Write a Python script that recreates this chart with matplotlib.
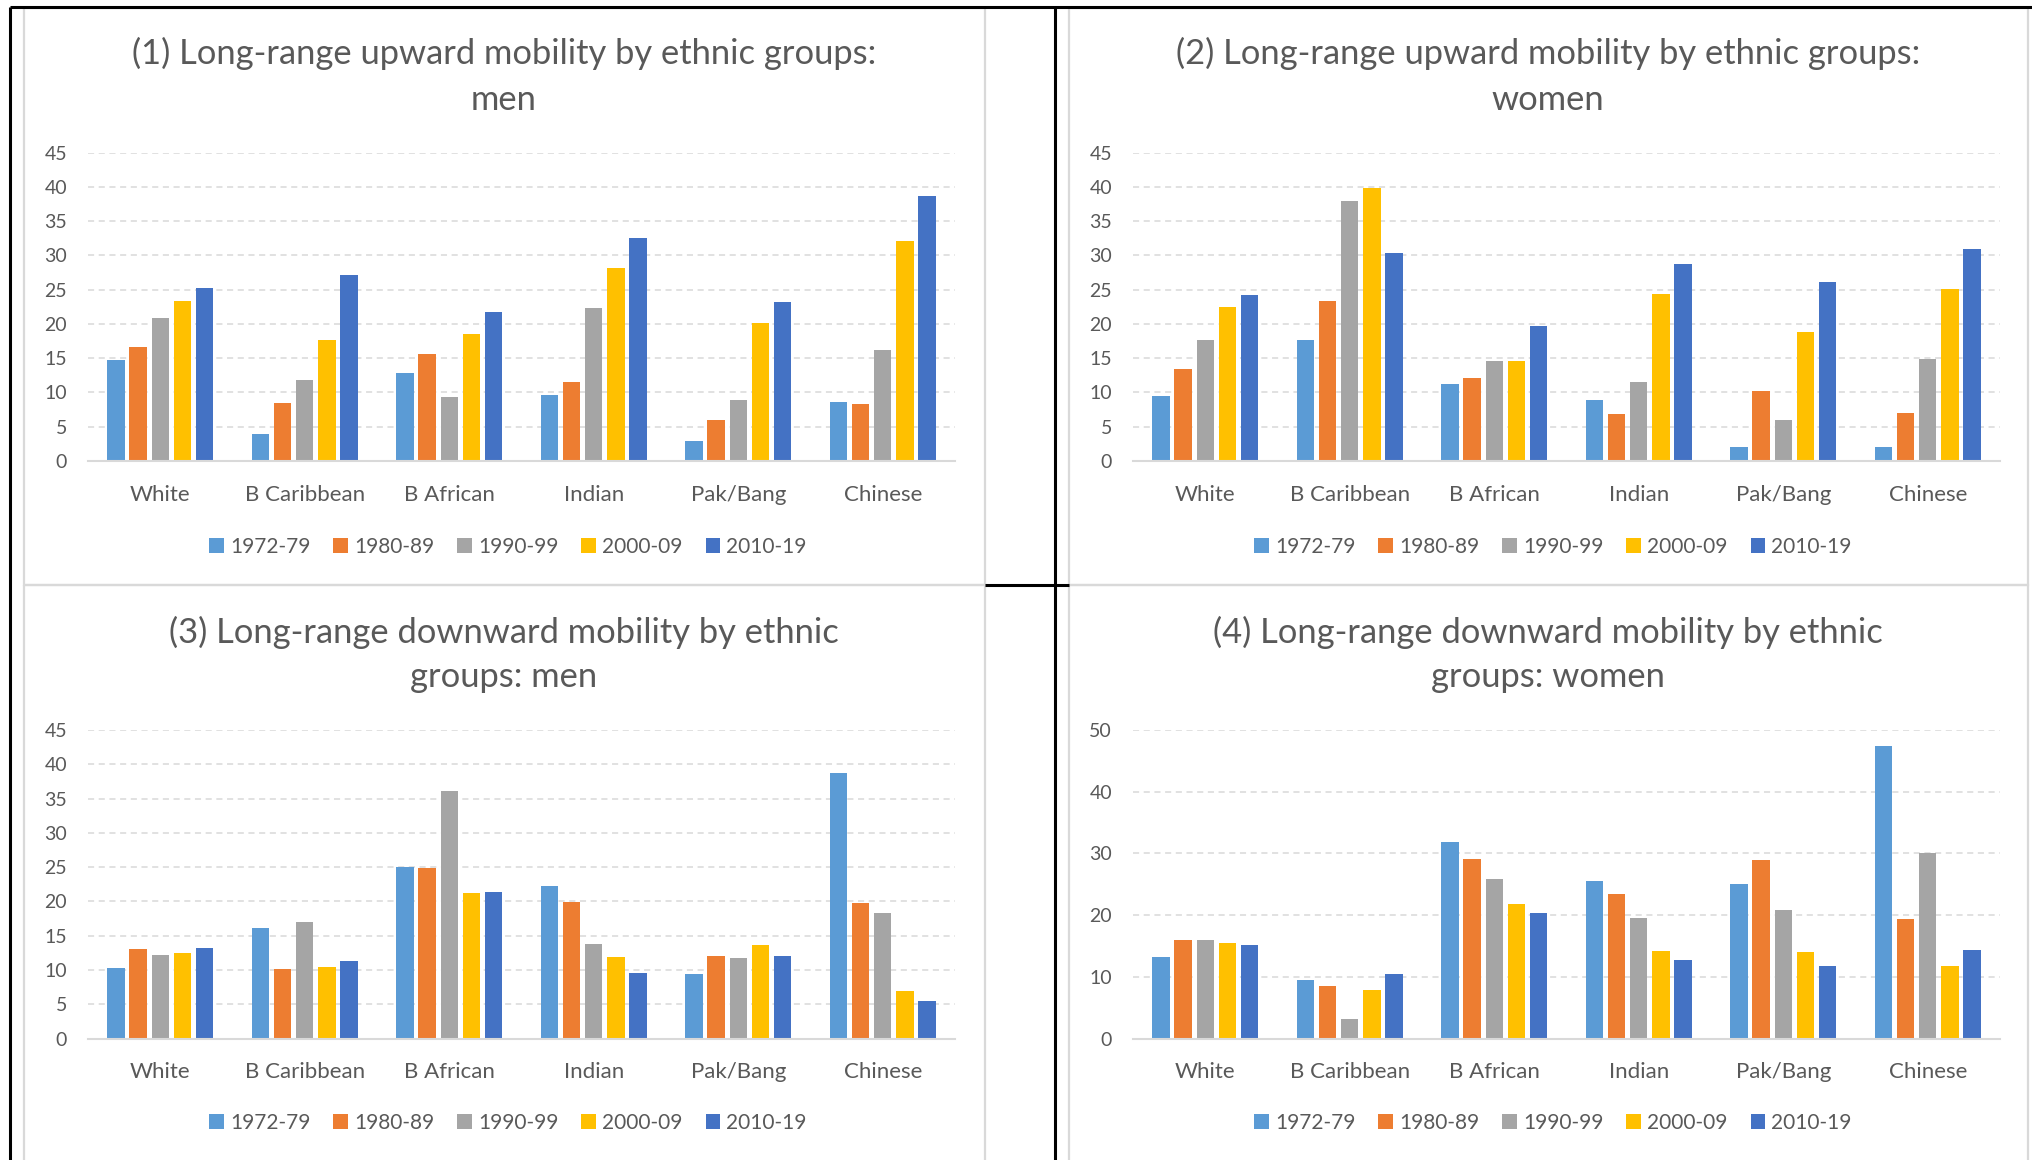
import matplotlib
matplotlib.use("Agg")
import matplotlib.pyplot as plt
from matplotlib.patches import Rectangle
import numpy as np

plt.rcParams['font.family'] = ['Lato', 'DejaVu Sans']

# ---------------- data ----------------
categories = ['White', 'B Caribbean', 'B African', 'Indian', 'Pak/Bang', 'Chinese']
periods = ['1972-79', '1980-89', '1990-99', '2000-09', '2010-19']
colors = ['#5B9BD5', '#ED7D31', '#A5A5A5', '#FFC000', '#4472C4']

# (1) upward mobility, men
up_men_1972 = [14.7, 4.0, 12.8, 9.7, 2.9, 8.6]
up_men_1980 = [16.7, 8.4, 15.6, 11.5, 6.0, 8.3]
up_men_1990 = [20.8, 11.8, 9.3, 22.3, 8.9, 16.2]
up_men_2000 = [23.3, 17.7, 18.6, 28.2, 20.2, 32.1]
up_men_2010 = [25.2, 27.1, 21.7, 32.5, 23.2, 38.7]

# (2) upward mobility, women
up_women_1972 = [9.5, 17.7, 11.3, 8.9, 2.0, 2.0]
up_women_1980 = [13.5, 23.3, 12.1, 6.9, 10.2, 7.0]
up_women_1990 = [17.6, 37.9, 14.6, 11.5, 6.0, 14.9]
up_women_2000 = [22.5, 39.9, 14.6, 24.4, 18.9, 25.1]
up_women_2010 = [24.3, 30.4, 19.7, 28.7, 26.1, 30.9]

# (3) downward mobility, men
down_men_1972 = [10.3, 16.1, 25.0, 22.2, 9.4, 38.7]
down_men_1980 = [13.1, 10.1, 24.9, 19.9, 12.1, 19.7]
down_men_1990 = [12.2, 17.0, 36.1, 13.8, 11.7, 18.3]
down_men_2000 = [12.5, 10.4, 21.2, 11.9, 13.6, 7.0]
down_men_2010 = [13.2, 11.3, 21.4, 9.5, 12.0, 5.5]

# (4) downward mobility, women
down_women_1972 = [13.2, 9.5, 31.8, 25.6, 25.0, 47.4]
down_women_1980 = [16.0, 8.5, 29.1, 23.5, 28.9, 19.4]
down_women_1990 = [15.9, 3.2, 25.8, 19.6, 20.8, 30.1]
down_women_2000 = [15.4, 7.9, 21.8, 14.2, 14.0, 11.8]
down_women_2010 = [15.2, 10.4, 20.3, 12.7, 11.8, 14.3]

titles = [
    ['(1) Long-range upward mobility by ethnic groups:', 'men'],
    ['(2) Long-range upward mobility by ethnic groups:', 'women'],
    ['(3) Long-range downward mobility by ethnic', 'groups: men'],
    ['(4) Long-range downward mobility by ethnic', 'groups: women'],
]
panel_series = [
    [up_men_1972, up_men_1980, up_men_1990, up_men_2000, up_men_2010],
    [up_women_1972, up_women_1980, up_women_1990, up_women_2000, up_women_2010],
    [down_men_1972, down_men_1980, down_men_1990, down_men_2000, down_men_2010],
    [down_women_1972, down_women_1980, down_women_1990, down_women_2000, down_women_2010],
]
y_max = [45, 45, 45, 50]
y_step = [5, 5, 5, 10]

# ---------------- layout ----------------
W, H = 2033, 1160
fig = plt.figure(figsize=(W / 100, H / 100), dpi=100)
fig.patch.set_facecolor('white')

def rect(l, r, t, b):
    return [l / W, 1 - b / H, (r - l) / W, (b - t) / H]

# background decoration (table borders and chart frames)
bg = fig.add_axes([0, 0, 1, 1], zorder=-5)
bg.set_xlim(0, W)
bg.set_ylim(H, 0)
bg.axis('off')
frame_col = '#D9D9D9'
for (x0, y0, x1, y1) in [(24, 8, 985, 585), (1069, 8, 2028, 585),
                         (24, 585, 985, 1175), (1069, 585, 2028, 1175)]:
    bg.add_patch(Rectangle((x0, y0), x1 - x0, y1 - y0, fill=False,
                           edgecolor=frame_col, linewidth=1.6))
bg.plot([10, 10], [7, H], color='black', lw=2.2, solid_capstyle='butt')
bg.plot([1055, 1055], [7, H], color='black', lw=2.2, solid_capstyle='butt')
bg.plot([10, 2033], [7, 7], color='black', lw=2.2, solid_capstyle='butt')
bg.plot([985, 1069], [585, 585], color='black', lw=2.2, solid_capstyle='butt')

axes_boxes = [
    rect(88, 955, 152.7, 461),
    rect(1133, 2000, 152.7, 461),
    rect(88, 955, 730, 1038.5),
    rect(1133, 2000, 730, 1038.5),
]
title_centers_x = [504, 1548, 504, 1548]
title_lines_y = [(53, 100), (53, 100), (632, 677), (632, 677)]
legend_pos = [(508, 547), (1553, 547), (508, 1123), (1553, 1123)]

text_col = '#595959'
x = np.arange(len(categories))
slot = 0.1534
bw = 0.119

for p in range(4):
    ax = fig.add_axes(axes_boxes[p])
    handles = []
    for i, vals in enumerate(panel_series[p]):
        b = ax.bar(x + (i - 2) * slot, vals, width=bw, color=colors[i],
                   label=periods[i], zorder=3)
        handles.append(b)
    ax.set_xlim(-0.5, len(categories) - 0.5)
    ax.set_ylim(0, y_max[p])
    ax.set_yticks(np.arange(0, y_max[p] + 1, y_step[p]))
    ax.set_xticks(x)
    ax.set_xticklabels(categories)
    ax.yaxis.grid(True, color='#D9D9D9', linestyle=(0, (4, 3)), linewidth=1.1, zorder=0)
    ax.set_axisbelow(True)
    for s in ['top', 'left', 'right']:
        ax.spines[s].set_visible(False)
    ax.spines['bottom'].set_color('#D9D9D9')
    ax.spines['bottom'].set_linewidth(1.5)
    ax.spines['bottom'].set_zorder(4)
    ax.tick_params(axis='both', length=0, colors=text_col)
    ax.tick_params(axis='y', pad=15, labelsize=14)
    ax.tick_params(axis='x', pad=17, labelsize=16)
    ax.set_facecolor('none')

    cx = title_centers_x[p] / W
    for line, yy in zip(titles[p], title_lines_y[p]):
        fig.text(cx, 1 - yy / H, line, ha='center', va='center',
                 fontsize=24.8, color=text_col)

    lx, ly = legend_pos[p]
    fig.legend(handles=handles, labels=periods, loc='center',
               bbox_to_anchor=(lx / W, 1 - ly / H), ncol=5, frameon=False,
               fontsize=15, labelcolor=text_col, handlelength=0.7,
               handleheight=0.7, handletextpad=0.3, columnspacing=1.1,
               borderpad=0, borderaxespad=0)

fig.savefig('out.png', dpi=100, facecolor='white')
